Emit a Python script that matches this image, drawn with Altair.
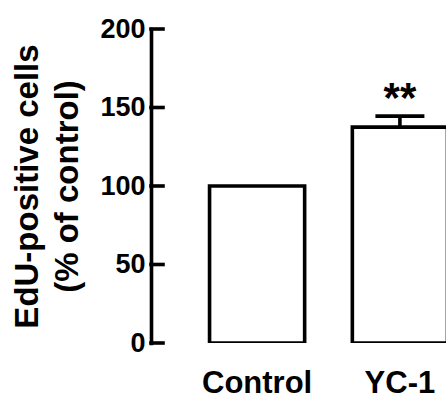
import altair as alt
import pandas as pd

# ---- data ----
categories = ["Control", "YC-1"]
values = [100, 137.5]
errors = [0, 7]
stars = ["", "**"]
tick_values = [0, 50, 100, 150, 200]
y_title = ["EdU-positive cells", "(% of control)"]

df = pd.DataFrame({"group": categories, "value": values, "err": errors, "star": stars})
df["top"] = df["value"] + df["err"]
df_err = df[df["err"] > 0]
ticks_df = pd.DataFrame({"t": tick_values})

FONT = "Liberation Sans"
LW = 3.6
yscale = alt.Scale(domain=[0, 200], nice=False, zero=True)
xscale = alt.Scale(domain=categories, range=[0, 355], paddingInner=0.334, paddingOuter=0.41)

x_axis = alt.Axis(title=None, domain=False, ticks=False, tickSize=0, labelAngle=0,
                  labelFont=FONT, labelFontSize=31, labelFontWeight="bold",
                  labelColor="black", labelPadding=25, labelBaseline="top", grid=False)
y_axis = alt.Axis(values=tick_values, ticks=False, tickSize=0, domain=True,
                  domainColor="black", domainWidth=LW, domainCap="square",
                  labelFont=FONT, labelFontSize=27, labelFontWeight="bold",
                  labelColor="black", labelPadding=6, grid=False,
                  title=y_title, titleFont=FONT, titleFontSize=33, titleFontWeight="bold",
                  titleColor="black", titleLineHeight=40, titleAngle=270,
                  titleX=-114, titleY=157, titleAlign="center", titleBaseline="alphabetic")

x_enc = alt.X("group:N", scale=xscale, sort=categories, axis=x_axis)

def y_enc(field):
    return alt.Y(field, scale=yscale, axis=y_axis)

bars = alt.Chart(df).mark_bar(fill="white", stroke="black", strokeWidth=LW, clip=True).encode(
    x=x_enc,
    y=y_enc("value:Q"),
)

inner_ticks = alt.Chart(ticks_df).mark_rule(color="black", strokeWidth=LW, strokeCap="square").encode(
    y=y_enc("t:Q"),
    x=alt.value(0),
    x2=alt.value(12),
)

err_rule = alt.Chart(df_err).mark_rule(color="black", strokeWidth=LW).encode(
    x=x_enc,
    y=y_enc("value:Q"),
    y2="top:Q",
)

err_cap = alt.Chart(df_err).mark_tick(color="black", thickness=LW, size=49, opacity=1).encode(
    x=x_enc,
    y=y_enc("top:Q"),
)

star_text = alt.Chart(df_err).mark_text(font=FONT, fontSize=42, fontWeight="bold",
                                         color="black", baseline="alphabetic", dy=-4).encode(
    x=x_enc,
    y=y_enc("top:Q"),
    text="star:N",
)

chart = alt.layer(bars, inner_ticks, err_rule, err_cap, star_text).properties(
    width=295,
    height=314,
    padding={"left": 151, "top": 29, "right": 0, "bottom": 56},
    autosize=alt.AutoSizeParams(type="none"),
    background="white",
).configure_view(stroke=None)

chart.save("out.html", embed_options={"renderer": "svg", "actions": False})
